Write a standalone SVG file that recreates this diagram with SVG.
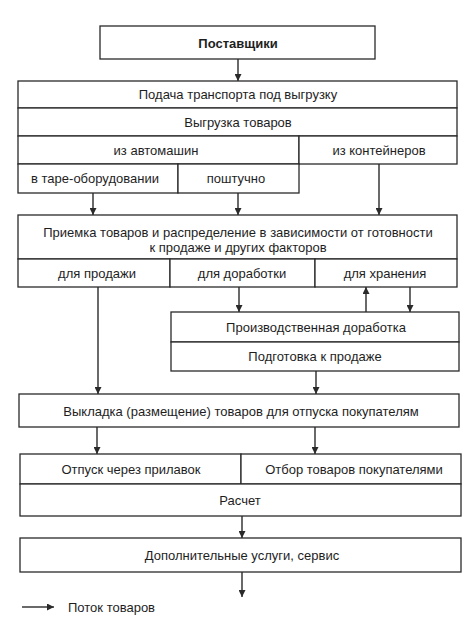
<svg xmlns="http://www.w3.org/2000/svg" width="467" height="618" viewBox="0 0 467 618">
<defs>
<style>
.box{fill:#fff;stroke:#2a2a2a;stroke-width:1.3}
.t{font-family:"Liberation Sans",Arial,sans-serif;font-size:13px;fill:#1e1e1e;text-anchor:middle;dominant-baseline:central}
.b{font-weight:bold}
.c{stroke:#2a2a2a;stroke-width:1.4;fill:none;marker-end:url(#ah)}
</style>
<marker id="ah" viewBox="0 0 10 10" refX="10" refY="5" markerWidth="8" markerHeight="7" markerUnits="userSpaceOnUse" orient="auto">
<path d="M0,0 L10,5 L0,10 z" fill="#2a2a2a"/>
</marker>
</defs>
<rect width="467" height="618" fill="#fff"/>
<g id="n-suppliers"><rect class="box" x="100" y="26" width="275" height="33"/><text class="t b" x="238" y="43">Поставщики</text></g>
<g id="n-transport"><rect class="box" x="18" y="81" width="439" height="27"/><text class="t" x="238" y="94.5">Подача транспорта под выгрузку</text></g>
<g id="n-unload"><rect class="box" x="18" y="108" width="439" height="28"/><text class="t" x="238" y="122">Выгрузка товаров</text></g>
<g id="n-auto"><rect class="box" x="18" y="136" width="281" height="28"/><text class="t" x="156" y="150">из автомашин</text></g>
<g id="n-cont"><rect class="box" x="299" y="136" width="158" height="28"/><text class="t" x="379" y="150">из контейнеров</text></g>
<g id="n-tare"><rect class="box" x="18" y="164" width="160" height="29"/><text class="t" x="95" y="178.5">в таре-оборудовании</text></g>
<g id="n-piece"><rect class="box" x="178" y="164" width="121" height="29"/><text class="t" x="236" y="178.5">поштучно</text></g>
<g id="n-accept"><rect class="box" x="18" y="215" width="439" height="44"/><text class="t" x="238" y="232">Приемка товаров и распределение в зависимости от готовности</text><text class="t" x="238" y="247">к продаже и других факторов</text></g>
<g id="n-sale"><rect class="box" x="18" y="259" width="152" height="28"/><text class="t" x="97" y="273">для продажи</text></g>
<g id="n-rework"><rect class="box" x="170" y="259" width="145" height="28"/><text class="t" x="242" y="273">для доработки</text></g>
<g id="n-store"><rect class="box" x="315" y="259" width="142" height="28"/><text class="t" x="385" y="273">для хранения</text></g>
<g id="n-prod"><rect class="box" x="171" y="312" width="288" height="30"/><text class="t" x="316" y="327">Производственная доработка</text></g>
<g id="n-prep"><rect class="box" x="171" y="342" width="288" height="29"/><text class="t" x="315" y="356.5">Подготовка к продаже</text></g>
<g id="n-display"><rect class="box" x="19" y="394" width="440" height="33"/><text class="t" x="241" y="411">Выкладка (размещение) товаров для отпуска покупателям</text></g>
<g id="n-counter"><rect class="box" x="20" y="454" width="221" height="30"/><text class="t" x="131" y="469.5">Отпуск через прилавок</text></g>
<g id="n-self"><rect class="box" x="241" y="454" width="220" height="30"/><text class="t" x="354" y="469.5">Отбор товаров покупателями</text></g>
<g id="n-pay"><rect class="box" x="20" y="484" width="441" height="32"/><text class="t" x="240" y="500">Расчет</text></g>
<g id="n-extra"><rect class="box" x="20" y="538" width="441" height="34"/><text class="t" x="242" y="555.5">Дополнительные услуги, сервис</text></g>
<g id="connectors">
<path class="c" d="M238,59 V81"/>
<path class="c" d="M93,193 V215"/>
<path class="c" d="M238,193 V215"/>
<path class="c" d="M379,164 V215"/>
<path class="c" d="M98,287 V394"/>
<path class="c" d="M239,287 V312"/>
<path class="c" d="M366,312 V287"/>
<path class="c" d="M410,287 V312"/>
<path class="c" d="M316,371 V394"/>
<path class="c" d="M97,427 V454"/>
<path class="c" d="M315,427 V454"/>
<path class="c" d="M242,516 V538"/>
<path class="c" d="M242,572 V597"/>
</g>
<g id="legend">
<path class="c" d="M22,607 H54"/>
<text class="t" x="68" y="607" style="text-anchor:start">Поток товаров</text>
</g>
</svg>
